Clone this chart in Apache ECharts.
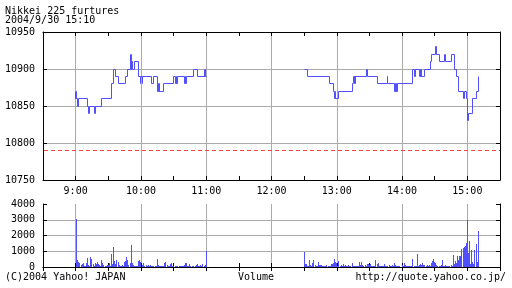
<!DOCTYPE html>
<html><head><meta charset="utf-8">
<script src="https://cdn.jsdelivr.net/npm/echarts@6/dist/echarts.min.js"></script>
<style>html,body{margin:0;padding:0;background:#fff}#c{width:512px;height:288px}</style>
</head><body><div id="c"></div>
<script>
const titleLines = ['Nikkei 225 furtures', '2004/9/30 15:10'];
const footerTexts = ['(C)2004 Yahoo! JAPAN', 'Volume', 'http://quote.yahoo.co.jp/'];
const hourLabels = ['9:00', '10:00', '11:00', '12:00', '13:00', '14:00', '15:00'];
const axisStart = '8:30';
const axisEnd = '15:30';
const priceTicks = [10750, 10800, 10850, 10900, 10950];
const volumeTicks = [0, 1000, 2000, 3000, 4000];
const prevClose = 10790;

const morningPrice = [
  ['9:00',10870],['9:00',10860],['9:01',10870],['9:01',10860],['9:02',10850],['9:03',10860],
  ['9:11',10850],['9:12',10840],['9:13',10850],['9:17',10840],['9:18',10850],
  ['9:24',10860],['9:33',10880],['9:35',10900],['9:37',10890],['9:39',10880],
  ['9:46',10890],['9:48',10900],['9:50',10920],['9:50',10900],['9:51',10920],['9:51',10910],
  ['9:52',10900],['9:54',10910],['9:58',10890],['10:00',10880],['10:00',10890],['10:01',10880],['10:01',10890],
  ['10:10',10880],['10:12',10890],['10:15',10870],['10:16',10880],['10:16',10870],['10:17',10880],['10:17',10870],
  ['10:21',10880],['10:30',10890],['10:32',10880],['10:33',10890],['10:33',10880],['10:34',10890],
  ['10:40',10880],['10:41',10890],['10:41',10880],['10:42',10890],
  ['10:48',10900],['10:52',10890],['10:58',10900],['10:58',10890],['10:59',10900],['10:59',10890],['11:00',10890]
];
const afternoonPrice = [
  ['12:30',10900],['12:33',10890],['12:53',10880],['12:57',10870],['12:58',10860],['12:59',10870],['12:59',10860],
  ['13:02',10870],['13:14',10880],['13:15',10890],['13:16',10880],['13:16',10890],['13:17',10880],['13:17',10890],
  ['13:27',10900],['13:28',10890],['13:37',10880],['13:47',10890],['13:47',10880],
  ['13:53',10870],['13:54',10880],['13:54',10870],['13:55',10880],['13:55',10870],['13:56',10880],
  ['14:10',10900],['14:11',10890],['14:12',10900],
  ['14:16',10890],['14:17',10900],['14:17',10890],['14:18',10900],['14:18',10890],['14:21',10900],
  ['14:26',10910],['14:27',10920],['14:31',10930],['14:32',10920],['14:34',10910],['14:39',10920],['14:40',10910],
  ['14:45',10920],['14:48',10900],['14:50',10890],['14:52',10870],['14:56',10860],['14:57',10870],['14:59',10860],
  ['15:00',10830],['15:01',10840],['15:05',10860],['15:08',10870],['15:10',10890]
];

const morningVolStart = '9:01';
const morningVolume = [
  3050,450,340,280,130,190,230,90,90,280,
  580,130,90,660,490,190,60,280,190,340,
  190,130,60,450,230,130,60,90,150,130,
  230,60,850,170,1280,380,170,450,300,130,
  60,90,110,60,340,380,660,450,130,230,
  1410,230,130,60,60,90,60,380,450,300,
  130,230,60,20,130,60,110,60,130,60,
  40,60,40,60,490,130,60,60,40,60,
  90,230,340,130,60,60,190,280,60,60,
  20,60,60,60,60,90,40,40,60,130,
  280,230,90,60,190,60,60,90,20,60,
  130,170,60,90,130,60,170,60,110,1040
];
const afternoonVolStart = '12:30';
const afternoonVolume = [
  980,190,190,60,60,450,130,60,230,450,
  130,60,60,320,130,130,130,60,60,60,
  60,110,60,60,60,190,190,230,510,300,
  230,60,380,60,130,60,190,60,130,60,
  60,130,60,60,260,60,60,60,60,60,
  60,320,130,320,130,60,130,60,190,190,
  130,190,60,60,60,60,450,190,230,60,
  60,60,60,60,190,60,60,60,130,60,
  60,110,60,280,130,60,60,60,60,20,
  130,60,280,130,60,60,60,60,60,60,
  490,60,60,60,850,60,130,170,130,230,
  130,130,60,130,60,130,60,230,380,490,
  340,230,130,60,60,60,130,450,60,60,
  130,60,60,60,60,130,60,770,170,380,
  230,700,450,700,700,1130,1190,1280,1340,1510,
  2970,870,1650,200,1080,300,200,1080,1460,300,
  2290
];

function toMin(s) { const p = s.split(':').map(Number); return p[0] * 60 + p[1] + (p[2] || 0) / 60; }
const xMin = toMin(axisStart), xMax = toMin(axisEnd);
const hourMap = {}; hourLabels.forEach(l => { hourMap[toMin(l)] = l; });

const FONT = '"DejaVu Sans Mono", monospace';
const BLUE = '#5050ff';
const RED = '#ff4040';
const GRAY = '#aaaaaa';
const CLEAR = 'rgba(0,0,0,0)';
const px = v => Math.floor(v) + 0.5;

function xAxisDef(gridIndex, position, labels) {
  return {
    type: 'value', gridIndex, position, min: xMin, max: xMax, interval: 30,
    axisLine: { show: true, lineStyle: { color: '#000', width: 1 } },
    axisTick: { show: true, inside: true, length: 4, lineStyle: { color: '#000' } },
    axisLabel: labels ? { show: true, margin: 6, color: '#000', fontFamily: FONT, fontSize: 10,
      formatter: v => hourMap[v] || '' } : { show: false },
    splitLine: position === 'bottom' ? { show: true, lineStyle: { color: [CLEAR, GRAY], width: 1 } } : { show: false }
  };
}
function yAxisDef(gridIndex, position, ticks, labels) {
  const n = ticks.length;
  const colors = ticks.map((t, i) => (i === 0 || i === n - 1) ? CLEAR : GRAY);
  return {
    type: 'value', gridIndex, position, min: ticks[0], max: ticks[n - 1], interval: ticks[1] - ticks[0],
    axisLine: { show: true, lineStyle: { color: '#000', width: 1 } },
    axisTick: { show: true, inside: true, length: 4, lineStyle: { color: '#000' } },
    axisLabel: labels ? { show: true, margin: 8, color: '#000', fontFamily: FONT, fontSize: 10,
      formatter: v => String(v) } : { show: false },
    splitLine: position === 'left' ? { show: true, lineStyle: { color: colors, width: 1 } } : { show: false }
  };
}

const mPrice = morningPrice.map(d => [toMin(d[0]), d[1]]);
const aPrice = afternoonPrice.map(d => [toMin(d[0]), d[1]]);
const mVol = morningVolume.map((v, i) => [toMin(morningVolStart) + i, v]);
const aVol = afternoonVolume.map((v, i) => [toMin(afternoonVolStart) + i, v]);

// step line drawn segment by segment through the axes' scales (api.coord), snapped to pixels
function stepSeries(points) {
  return {
    type: 'custom', coordinateSystem: 'cartesian2d', xAxisIndex: 0, yAxisIndex: 0, silent: true,
    data: points,
    renderItem: function (params, api) {
      const i = params.dataIndex;
      const a = api.coord(points[i]);
      if (i === points.length - 1) {
        return { type: 'line', shape: { x1: px(a[0]), y1: px(a[1]), x2: px(a[0]), y2: px(a[1]) }, style: { stroke: BLUE, lineWidth: 1 } };
      }
      const b = api.coord(points[i + 1]);
      return { type: 'polyline', shape: { points: [[px(a[0]), px(a[1])], [px(b[0]), px(a[1])], [px(b[0]), px(b[1])]] },
        style: { stroke: BLUE, lineWidth: 1, fill: null } };
    }
  };
}
function volumeSeries(points) {
  return {
    type: 'custom', coordinateSystem: 'cartesian2d', xAxisIndex: 2, yAxisIndex: 2, silent: true,
    data: points,
    renderItem: function (params, api) {
      const top = api.coord([api.value(0), api.value(1)]);
      const base = api.coord([api.value(0), 0]);
      const x = Math.floor(top[0]);
      const y = Math.round(top[1]);
      return { type: 'rect', shape: { x: x, y: y, width: 1, height: Math.round(base[1]) - y }, style: { fill: BLUE } };
    }
  };
}

const txt = (s, x, y, align) => ({ type: 'text', x, y, silent: true,
  style: { text: s, font: '10px ' + FONT, fill: '#000', textAlign: align || 'left', textVerticalAlign: 'middle' } });

const chart = echarts.init(document.getElementById('c'), null, { renderer: 'canvas' });
chart.setOption({
  animation: false,
  backgroundColor: '#fff',
  grid: [
    { left: 43, top: 32, width: 457, height: 148 },
    { left: 43, top: 204, width: 457, height: 63 }
  ],
  xAxis: [
    xAxisDef(0, 'bottom', true), xAxisDef(0, 'top', false),
    xAxisDef(1, 'bottom', false), xAxisDef(1, 'top', false)
  ],
  yAxis: [
    yAxisDef(0, 'left', priceTicks, true), yAxisDef(0, 'right', priceTicks, false),
    yAxisDef(1, 'left', volumeTicks, true), yAxisDef(1, 'right', volumeTicks, false)
  ],
  graphic: [
    txt(titleLines[0], 5, 11.5), txt(titleLines[1], 5, 20.5),
    txt(footerTexts[0], 5, 277.5), txt(footerTexts[1], 238, 277.5), txt(footerTexts[2], 506, 277.5, 'right')
  ],
  series: [
    {
      type: 'custom', coordinateSystem: 'cartesian2d', xAxisIndex: 0, yAxisIndex: 0, silent: true,
      data: [[xMin, prevClose]],
      renderItem: function (params, api) {
        const a = api.coord([xMin, prevClose]);
        const b = api.coord([xMax, prevClose]);
        return { type: 'line', shape: { x1: a[0] + 1, y1: px(a[1]), x2: b[0], y2: px(a[1]) },
          style: { stroke: RED, lineWidth: 1, lineDash: [4, 3] } };
      }
    },
    stepSeries(mPrice),
    stepSeries(aPrice),
    volumeSeries(mVol),
    volumeSeries(aVol)
  ]
});
</script></body></html>
